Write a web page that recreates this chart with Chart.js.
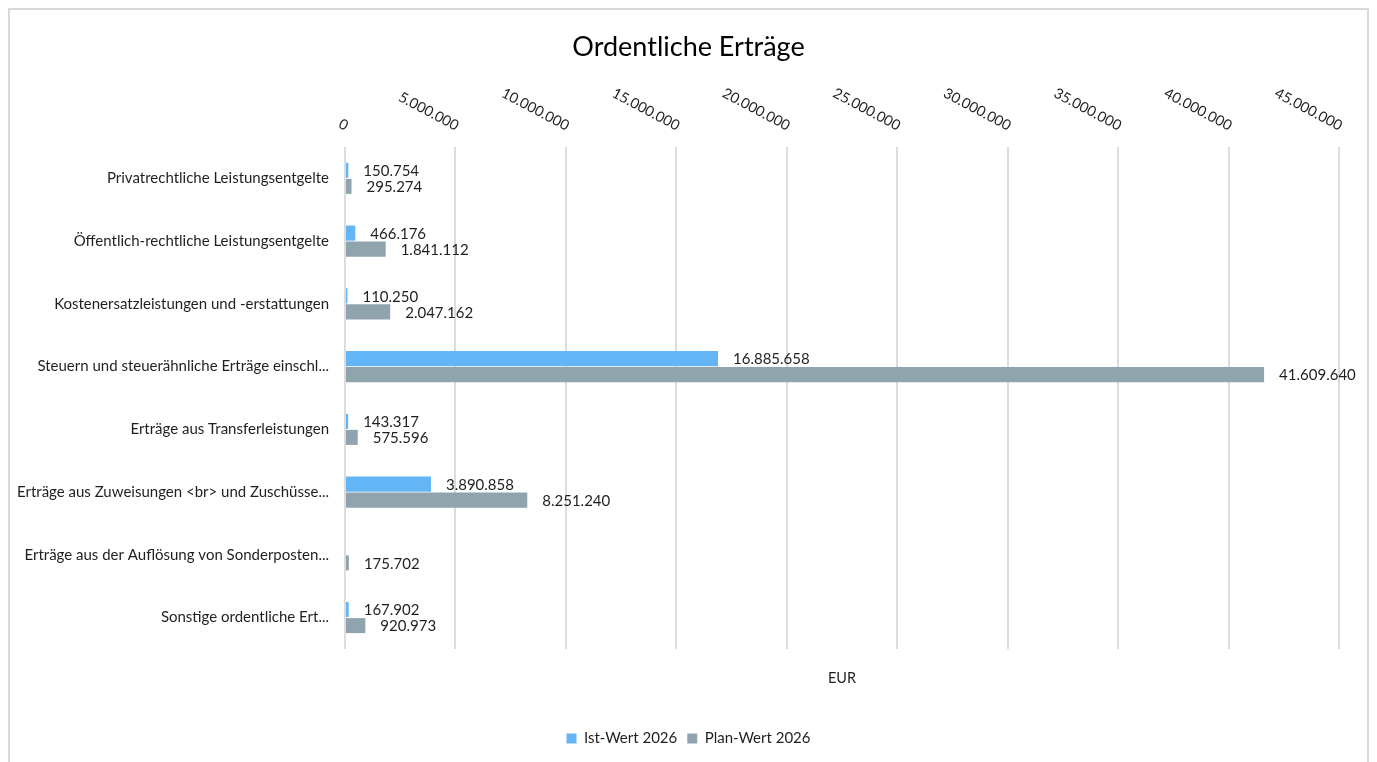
<!DOCTYPE html>
<html><head><meta charset="utf-8">
<script src="https://cdn.jsdelivr.net/npm/chart.js@4.4.1/dist/chart.umd.min.js"></script>
<style>
html,body{margin:0;padding:0;background:#fff;overflow:hidden;width:1377px;height:762px}
#frame{position:absolute;left:8px;top:8px;width:1357px;height:800px;border:2px solid #d9d9d9;}
#c{position:absolute;left:0;top:0}
</style></head><body>
<div id="frame"></div>
<canvas id="c" width="1377" height="762"></canvas>
<script>
const chartTitle = 'Ordentliche Erträge';
const categories = [
  'Privatrechtliche Leistungsentgelte',
  'Öffentlich-rechtliche Leistungsentgelte',
  'Kostenersatzleistungen und -erstattungen',
  'Steuern und steuerähnliche Erträge einschl...',
  'Erträge aus Transferleistungen',
  'Erträge aus Zuweisungen <br> und Zuschüsse...',
  'Erträge aus der Auflösung von Sonderposten...',
  'Sonstige ordentliche Ert...'
];
const seriesNames = ['Ist-Wert 2026', 'Plan-Wert 2026'];
const istWert2026 = [150754, 466176, 110250, 16885658, 143317, 3890858, null, 167902];
const planWert2026 = [295274, 1841112, 2047162, 41609640, 575596, 8251240, 175702, 920973];
const tickLabels = ['0', '5.000.000', '10.000.000', '15.000.000', '20.000.000', '25.000.000', '30.000.000', '35.000.000', '40.000.000', '45.000.000'];
const axisMin = 0, axisMax = 45000000, axisStep = 5000000;
const axisTitle = 'EUR';

const TEXT = '#1f1f1f';
const FONT = 'Lato, "Open Sans", sans-serif';
Chart.defaults.font.family = FONT;
Chart.defaults.color = TEXT;

function formatDE(v) { return String(Math.round(v)).replace(/\B(?=(\d{3})+(?!\d))/g, '.'); }

const topTicksPlugin = {
  id: 'topTicks',
  afterDraw(chart) {
    const sc = chart.scales.x, ctx = chart.ctx;
    ctx.save();
    ctx.font = '14.5px ' + FONT;
    ctx.fillStyle = TEXT;
    ctx.textAlign = 'right';
    ctx.textBaseline = 'alphabetic';
    sc.ticks.forEach((t, i) => {
      const x = sc.getPixelForValue(t.value);
      ctx.save();
      ctx.translate(x, 131);
      ctx.rotate(28 * Math.PI / 180);
      ctx.fillText(tickLabels[i] !== undefined ? tickLabels[i] : String(t.label), 0, 0);
      ctx.restore();
    });
    ctx.restore();
  }
};

const valueLabelPlugin = {
  id: 'valueLabels',
  afterDatasetsDraw(chart) {
    const ctx = chart.ctx;
    ctx.save();
    ctx.font = '15px ' + FONT;
    ctx.fillStyle = TEXT;
    ctx.textAlign = 'left';
    ctx.textBaseline = 'middle';
    chart.data.datasets.forEach((ds, di) => {
      const meta = chart.getDatasetMeta(di);
      meta.data.forEach((el, i) => {
        const v = ds.data[i];
        if (v === null || v === undefined) return;
        ctx.fillText(formatDE(v), el.x + 15, el.y + 1);
      });
    });
    ctx.restore();
  }
};

new Chart(document.getElementById('c'), {
  type: 'bar',
  data: {
    labels: categories,
    datasets: [
      { label: seriesNames[0], data: istWert2026, backgroundColor: '#64b5f6', borderWidth: 0, categoryPercentage: 0.51, barPercentage: 0.94 },
      { label: seriesNames[1], data: planWert2026, backgroundColor: '#90a4ae', borderWidth: 0, categoryPercentage: 0.51, barPercentage: 0.94 }
    ]
  },
  options: {
    indexAxis: 'y',
    responsive: false,
    animation: false,
    devicePixelRatio: 1,
    layout: { padding: { left: 0, right: 0, top: 0, bottom: 6 } },
    plugins: {
      title: { display: true, text: chartTitle, color: '#000', font: { size: 27, weight: 'normal', family: FONT }, padding: { top: 31, bottom: 0 } },
      legend: {
        display: true, position: 'bottom',
        labels: { font: { size: 15, family: FONT }, color: TEXT, boxWidth: 10, boxHeight: 10, padding: 10 }
      },
      tooltip: { enabled: false }
    },
    scales: {
      x: {
        type: 'linear', position: 'top', min: axisMin, max: axisMax,
        ticks: { stepSize: axisStep, display: false, callback: (v, i) => tickLabels[i] },
        grid: { color: '#dcdcdc', lineWidth: 2, drawTicks: false },
        border: { display: false },
        afterFit(scale) { scale.height = 147 - 63.4; }
      },
      x2: {
        type: 'linear', position: 'bottom', display: true,
        ticks: { display: false },
        grid: { display: false, drawTicks: false },
        border: { display: false },
        title: { display: true, text: axisTitle, color: TEXT, font: { size: 14.5, family: FONT }, padding: { top: 4, bottom: 34 } },
        afterFit(scale) { scale.height = 72; }
      },
      y: {
        type: 'category',
        grid: { display: false, drawTicks: false },
        border: { display: false },
        ticks: { padding: 16, color: TEXT, font: { size: 15, family: FONT }, autoSkip: false },
        afterFit(scale) { scale.width = 345; }
      },
      yR: {
        type: 'category', position: 'right', display: true,
        grid: { display: false, drawTicks: false },
        border: { display: false },
        ticks: { display: false },
        afterFit(scale) { scale.width = 38; }
      }
    }
  },
  plugins: [topTicksPlugin, valueLabelPlugin]
});
</script>
</body></html>
